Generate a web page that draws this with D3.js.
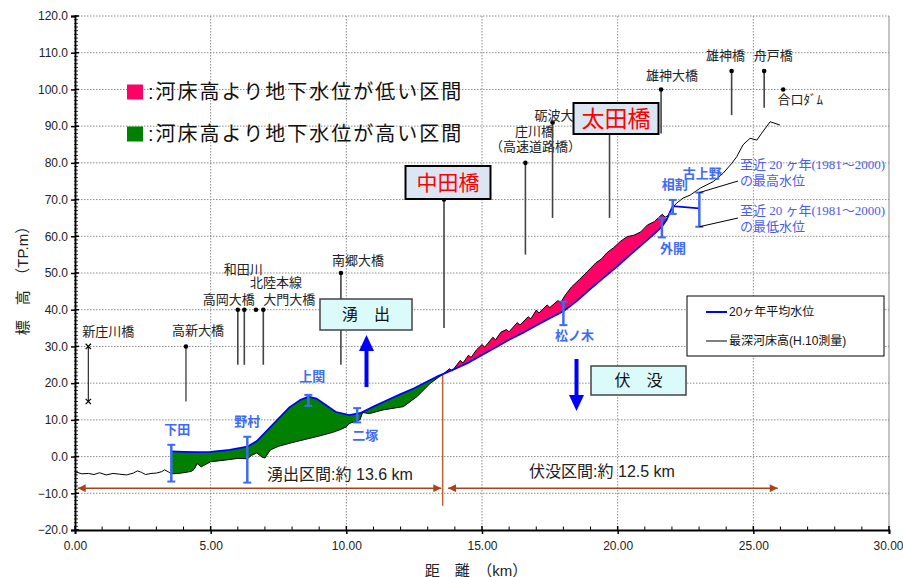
<!DOCTYPE html>
<html>
<head>
<meta charset="utf-8">
<script src="https://cdn.jsdelivr.net/npm/d3@7"></script>
<style>
  body { margin: 0; background: #fff; }
  text { font-family: "Liberation Sans", "Noto Sans CJK JP", sans-serif; }
</style>
</head>
<body>
<div id="chart"></div>
<script>
// 最深河床高 (H.10測量)
var bedKm = [0.0, 0.25, 0.5, 0.7, 0.9, 1.15, 1.4, 1.65, 1.9, 2.15, 2.3, 2.45, 2.6, 2.8, 3.0, 3.2, 3.3, 3.45,
    3.55, 3.8, 4.1, 4.3, 4.4, 4.5, 4.65, 4.9, 5.0, 5.5, 6.0, 6.35, 6.5, 6.7, 6.9, 7.0, 7.2, 7.5, 8.0, 8.5,
    9.0, 9.5, 9.8, 10.0, 10.1, 10.3, 10.5, 10.6, 10.85, 11.35, 12.1, 12.6, 13.1, 13.4,
    13.56, 13.8, 13.9, 14.2, 14.3, 14.5, 14.6, 14.8, 15.0, 15.1, 15.4, 15.5, 15.7, 15.9, 16.0, 16.3, 16.4,
    16.7, 16.8, 17.0, 17.1, 17.4, 17.5, 17.8, 17.9, 18.05, 18.3, 18.6, 18.9, 19.2, 19.4, 19.6, 19.85, 20.1,
    20.35, 20.6, 20.85, 21.1, 21.35, 21.55, 21.65, 21.75, 21.85, 22.0, 22.17, 22.41, 22.67, 23.04, 23.52,
    23.89, 24.21, 24.39, 24.62, 24.88, 25.13, 25.31, 25.62, 25.98];
var bedElev = [-4.1, -4.7, -4.6, -4.9, -4.4, -5.0, -4.6, -4.8, -5.0, -4.5, -3.9, -4.3, -4.9, -4.6, -4.5, -4.1, -3.6, -4.2,
    -4.7, -4.6, -4.3, -4.0, -3.4, -1.9, -2.8, -1.8, -1.4, -1.0, -0.5, -0.6, 0.3, 1.0, -0.2, -0.4, 1.8, 2.8, 3.8, 4.7,
    5.6, 6.6, 7.4, 8.1, 9.0, 9.5, 10.0, 12.0, 11.7, 12.7, 13.6, 16.3, 20.0, 21.6,
    22.4, 23.9, 23.3, 26.2, 25.5, 27.6, 27.0, 29.1, 30.5, 29.8, 32.5, 31.8, 33.9, 34.6, 34.0, 36.5, 35.8,
    38.1, 37.5, 39.9, 39.1, 41.3, 40.6, 42.5, 41.9, 43.8, 46.2, 48.3, 50.5, 52.8, 53.8, 55.5, 56.9, 58.6,
    59.9, 60.3, 61.2, 63.1, 64.0, 65.4, 66.0, 65.2, 65.6, 67.6, 69.0, 70.4, 71.2, 73.1, 74.9,
    77.2, 79.9, 81.7, 84.9, 86.7, 86.2, 88.1, 91.2, 90.3];

// 20ヶ年平均水位
var waterKm = [3.55, 4.0, 4.5, 5.0, 5.7, 6.35, 6.7, 7.2, 7.9, 8.3, 8.6, 8.9, 9.15, 9.6, 10.1, 10.5, 11.0, 11.4,
    12.0, 12.5, 13.0, 13.4, 13.6, 14.0, 14.5, 15.0, 15.5, 16.0, 16.5, 17.0, 17.5, 18.0, 18.5, 19.0, 19.5,
    20.0, 20.5, 21.0, 21.3, 21.63, 21.8, 22.03, 23.01];
var waterElev = [1.4, 1.3, 1.2, 1.3, 1.8, 2.7, 4.2, 8.0, 13.4, 15.4, 16.3, 15.8, 14.5, 12.2, 11.3, 11.8, 13.6, 15.0,
    17.0, 18.6, 20.5, 22.0, 22.6, 23.9, 25.6, 27.7, 29.7, 31.8, 33.7, 35.7, 37.7, 39.6, 42.4, 45.7, 48.8,
    51.9, 55.2, 58.4, 60.3, 62.6, 64.5, 68.2, 67.6];

// 至近20ヶ年の最高・最低水位
var gaugeNames = ["下田", "野村", "上関", "二塚", "松ノ木", "外開", "相割", "古上野"];
var gaugeKm = [3.55, 6.35, 8.6, 10.4, 18.0, 21.63, 22.03, 23.01];
var gaugeHigh = [3.2, 5.4, 16.8, 13.2, 42.2, 65.0, 69.9, 71.9];
var gaugeLow = [-6.8, -7.1, 13.8, 9.3, 35.8, 59.7, 66.1, 62.6];

// 橋梁
var bridgeNames = ["新庄川橋", "高新大橋", "高岡大橋", "和田川", "北陸本線", "大門大橋", "南郷大橋", "中田橋",
    "庄川橋", "砺波大橋", "太田橋", "雄神大橋", "雄神橋", "舟戸橋", "合口ﾀﾞﾑ"];
var bridgeKm = [0.49, 4.09, 6.0, 6.24, 6.67, 6.94, 9.8, 13.6, 16.6, 17.6, 19.7, 21.6, 24.2, 25.4, 26.1];
var bridgeTop = [30, 30, 40, 40, 40, 40, 50, 70, 80, 91, 90, 100, 105, 105, 100];
var bridgeBottom = [15, 15, 25, 25, null, 25, 25, 35, 55, 65, 65, 88, 93, 95, null];

var yTicks = d3.range(-20, 121, 10);
var xTicks = d3.range(0, 31, 5);

// 区間
var upwellRange = [0.1, 13.5], upwellText = "湧出区間:約 13.6 km";
var sinkRange = [13.75, 25.9], sinkText = "伏没区間:約 12.5 km";
var boundaryKm = 13.55;

var width = 903, height = 577;

var x = d3.scaleLinear().domain([0, 30]).range([75, 889]);
var y = d3.scaleLinear().domain([-20, 120]).range([530, 16]);

var svg = d3.select("#chart").append("svg")
    .attr("width", width)
    .attr("height", height);

var defs = svg.append("defs");
defs.append("marker")
    .attr("id", "brownArrow")
    .attr("viewBox", "0 0 10 10")
    .attr("refX", 10).attr("refY", 5)
    .attr("markerWidth", 10).attr("markerHeight", 8)
    .attr("markerUnits", "userSpaceOnUse")
    .attr("orient", "auto-start-reverse")
    .append("path").attr("d", "M0,0L10,5L0,10Z").attr("fill", "#a9441a");

// grid
svg.append("g").selectAll("line")
    .data(yTicks.filter(function(d) { return d > -20; }))
    .enter().append("line")
    .attr("x1", x(0)).attr("x2", x(30))
    .attr("y1", function(d) { return y(d); })
    .attr("y2", function(d) { return y(d); })
    .attr("stroke", "#8c8c8c")
    .attr("stroke-dasharray", "1.5,1.5");
svg.append("g").selectAll("line")
    .data(xTicks.filter(function(d) { return d > 0 && d < 30; }))
    .enter().append("line")
    .attr("x1", function(d) { return x(d); })
    .attr("x2", function(d) { return x(d); })
    .attr("y1", y(120)).attr("y2", y(-20))
    .attr("stroke", "#8c8c8c")
    .attr("stroke-dasharray", "1.5,1.5");
svg.append("line")
    .attr("x1", x(30)).attr("x2", x(30))
    .attr("y1", y(120)).attr("y2", y(-20))
    .attr("stroke", "#888");

var bed = d3.zip(bedKm, bedElev);
var water = d3.zip(waterKm, waterElev);
var line = d3.line()
    .x(function(d) { return x(d[0]); })
    .y(function(d) { return y(d[1]); });

function band(lo, hi, upperFirst) {
    var inR = function(d) { return d[0] >= lo && d[0] <= hi; };
    var w = water.filter(inR), b = bed.filter(inR);
    return line(upperFirst ? w.concat(b.reverse()) : b.concat(w.reverse())) + "Z";
}

// groundwater higher than bed (green), lower than bed (pink)
svg.append("path").attr("d", band(3.55, 13.6, true)).attr("fill", "#008000");
svg.append("path").attr("d", band(13.56, 21.8, false)).attr("fill", "#ff0066");

// boundary line
svg.append("line")
    .attr("x1", x(boundaryKm)).attr("x2", x(boundaryKm))
    .attr("y1", y(22.2)).attr("y2", y(-13.4))
    .attr("stroke", "#c0602e").attr("stroke-width", 1.5);

svg.append("path").datum(bed).attr("d", line)
    .attr("fill", "none").attr("stroke", "#000").attr("stroke-width", 1);
svg.append("path").datum(water).attr("d", line)
    .attr("fill", "none").attr("stroke", "#0000ff").attr("stroke-width", 1.8);

// gauge high/low bars
var gaugeColor = "#3d6cf2";
var gauges = svg.append("g").selectAll("g")
    .data(gaugeNames.map(function(n, i) {
        return { name: n, km: gaugeKm[i], hi: gaugeHigh[i], lo: gaugeLow[i] };
    }))
    .enter().append("g");
gauges.append("line")
    .attr("x1", function(d) { return x(d.km); })
    .attr("x2", function(d) { return x(d.km); })
    .attr("y1", function(d) { return y(d.hi); })
    .attr("y2", function(d) { return y(d.lo); })
    .attr("stroke", gaugeColor).attr("stroke-width", 2.5);
["hi", "lo"].forEach(function(k) {
    gauges.append("line")
        .attr("x1", function(d) { return x(d.km) - 4; })
        .attr("x2", function(d) { return x(d.km) + 4; })
        .attr("y1", function(d) { return y(d[k]); })
        .attr("y2", function(d) { return y(d[k]); })
        .attr("stroke", gaugeColor).attr("stroke-width", 2);
});

// label placement relative to bar top (t) or bottom (b)
var gaugeLabelPos = {
    "下田": ["t", 6, -15], "野村": ["t", 0, -15], "上関": ["t", 4, -18], "二塚": ["b", 8, 13],
    "松ノ木": ["b", 11, 10], "外開": ["b", 11, 11], "相割": ["t", 2, -15], "古上野": ["t", 3, -19]
};
gauges.append("text")
    .attr("x", function(d) { return x(d.km) + gaugeLabelPos[d.name][1]; })
    .attr("y", function(d) {
        var p = gaugeLabelPos[d.name];
        return y(p[0] == "t" ? d.hi : d.lo) + p[2];
    })
    .attr("text-anchor", "middle")
    .attr("dominant-baseline", "central")
    .style("font-size", "13px").style("font-weight", "bold")
    .attr("fill", gaugeColor)
    .text(function(d) { return d.name; });

// notes for max/min water level
var gi = gaugeNames.indexOf("古上野");
[[gaugeHigh[gi], 181, 164, "の最高水位"], [gaugeLow[gi], 218, 210, "の最低水位"]].forEach(function(n) {
    svg.append("line")
        .attr("x1", x(gaugeKm[gi])).attr("y1", y(n[0]))
        .attr("x2", 738).attr("y2", n[1])
        .attr("stroke", "#000").attr("stroke-width", 1);
    var t = svg.append("text")
        .attr("x", 740).attr("y", n[2])
        .attr("dominant-baseline", "central")
        .style("font-family", "'Liberation Serif', 'Noto Sans CJK JP', serif")
        .style("font-size", "13px")
        .attr("fill", "#4a5cf0");
    t.append("tspan").text("至近 20 ヶ年(1981～2000)");
    t.append("tspan").attr("x", 740).attr("dy", 16).text(n[3]);
});

// bridges
var bridgeLabelPos = {
    "新庄川橋": [20, -15], "高新大橋": [12, -16], "高岡大橋": [-9, -10], "和田川": [-1, -40],
    "北陸本線": [20, -27], "大門大橋": [26, -10], "南郷大橋": [17, -13], "庄川橋": [9, -31],
    "砺波大橋": [8, -7], "雄神大橋": [11, -14], "雄神橋": [-6, -16], "舟戸橋": [9, -16], "合口ﾀﾞﾑ": [17, 10]
};
var bridges = svg.append("g");
bridgeNames.forEach(function(name, i) {
    var bx = x(bridgeKm[i]), by = y(bridgeTop[i]);
    var thin = (name == "新庄川橋" || name == "高新大橋");
    if (bridgeBottom[i] != null) {
        bridges.append("line")
            .attr("x1", bx).attr("x2", bx)
            .attr("y1", by).attr("y2", y(bridgeBottom[i]))
            .attr("stroke", thin ? "#000" : "#444")
            .attr("stroke-width", thin ? 1 : 1.6);
    }
    if (name == "新庄川橋") {
        [bridgeTop[i], bridgeBottom[i]].forEach(function(v) {
            bridges.append("path")
                .attr("d", d3.symbol(d3.symbolTimes, 20)())
                .attr("transform", "translate(" + bx + "," + y(v) + ")")
                .attr("stroke", "#000").attr("stroke-width", 1.2).attr("fill", "none");
        });
    } else {
        bridges.append("circle").attr("cx", bx).attr("cy", by).attr("r", 2.3).attr("fill", "#000");
    }
    var p = bridgeLabelPos[name];
    if (!p) return;
    bridges.append("text")
        .attr("x", bx + p[0]).attr("y", by + p[1])
        .attr("text-anchor", "middle")
        .attr("dominant-baseline", "central")
        .style("font-size", "13px").attr("fill", "#222")
        .text(name);
    if (name == "庄川橋") {
        bridges.append("text")
            .attr("x", bx + p[0] + 1).attr("y", by + p[1] + 15)
            .attr("text-anchor", "middle")
            .attr("dominant-baseline", "central")
            .style("font-size", "13px").attr("fill", "#222")
            .text("（高速道路橋）");
    }
});

// boxed bridge names
function nameBox(cx, cy, w, h, txt, size) {
    svg.append("rect")
        .attr("x", cx - w / 2).attr("y", cy - h / 2)
        .attr("width", w).attr("height", h)
        .attr("fill", "#dce6f2").attr("stroke", "#000").attr("stroke-width", 2);
    svg.append("text")
        .attr("x", cx).attr("y", cy)
        .attr("text-anchor", "middle").attr("dominant-baseline", "central")
        .style("font-size", size + "px").attr("fill", "#ff0000")
        .text(txt);
}
nameBox(448, 182.5, 85, 33, "中田橋", 21);
nameBox(616, 118.5, 85, 31, "太田橋", 23);

// 湧出 / 伏没 boxes and arrows
function flowBox(x0, y0, w, h, txt) {
    svg.append("rect")
        .attr("x", x0).attr("y", y0).attr("width", w).attr("height", h)
        .attr("fill", "#dbfbfb").attr("stroke", "#444").attr("stroke-width", 1.5);
    svg.append("text")
        .attr("x", x0 + w / 2).attr("y", y0 + h / 2)
        .attr("text-anchor", "middle").attr("dominant-baseline", "central")
        .style("font-size", "16px").attr("fill", "#111")
        .text(txt);
}
flowBox(320, 299, 92, 31, "湧　出");
flowBox(591, 366, 95, 29, "伏　没");
svg.append("path")
    .attr("d", "M364.5,387V351H359L366.5,335L374,351H368.5V387Z")
    .attr("fill", "#0000ff");
svg.append("path")
    .attr("d", "M574.5,359V395H569L576.5,411L584,395H578.5V359Z")
    .attr("fill", "#0000ff");

// range arrows
[[upwellRange, upwellText, 340, -5.0], [sinkRange, sinkText, 602, -4.2]].forEach(function(r) {
    svg.append("line")
        .attr("x1", x(r[0][0])).attr("x2", x(r[0][1]))
        .attr("y1", y(-8.6)).attr("y2", y(-8.6))
        .attr("stroke", "#a9441a").attr("stroke-width", 1.5)
        .attr("marker-start", "url(#brownArrow)")
        .attr("marker-end", "url(#brownArrow)");
    svg.append("text")
        .attr("x", r[2]).attr("y", y(r[3]))
        .attr("text-anchor", "middle").attr("dominant-baseline", "central")
        .style("font-size", "16px").attr("fill", "#222")
        .text(r[1]);
});

// legend (areas)
[["#ff0066", ":河床高より地下水位が低い区間", 92], ["#008000", ":河床高より地下水位が高い区間", 134]].forEach(function(l) {
    svg.append("rect").attr("x", 127).attr("y", l[2] - 7.5).attr("width", 16).attr("height", 15).attr("fill", l[0]);
    svg.append("text")
        .attr("x", 148).attr("y", l[2])
        .attr("dominant-baseline", "central")
        .style("font-size", "20px").style("letter-spacing", "2px").attr("fill", "#111")
        .text(l[1]);
});

// legend (lines)
svg.append("rect")
    .attr("x", 687).attr("y", 296).attr("width", 197).attr("height", 60)
    .attr("fill", "#fff").attr("stroke", "#000").attr("stroke-width", 1);
[["#0000ff", 2, "20ヶ年平均水位", 312], ["#000", 1, "最深河床高(H.10測量)", 341]].forEach(function(l) {
    svg.append("line")
        .attr("x1", 706).attr("x2", 727).attr("y1", l[3]).attr("y2", l[3])
        .attr("stroke", l[0]).attr("stroke-width", l[1]);
    svg.append("text")
        .attr("x", 729).attr("y", l[3])
        .attr("dominant-baseline", "central")
        .style("font-size", "12px").attr("fill", "#111")
        .text(l[2]);
});

// Y Axis
var yAxis = svg.append("g")
    .attr("transform", "translate(" + x(0) + ",0)")
    .call(d3.axisLeft(y).tickValues(yTicks).tickFormat(d3.format(".1f")).tickSize(4).tickPadding(3));
svg.append("g").selectAll("line")
    .data(d3.range(-20, 121, 1))
    .enter().append("line")
    .attr("x1", x(0) - 1).attr("x2", x(0) + 3)
    .attr("y1", function(d) { return y(d); })
    .attr("y2", function(d) { return y(d); })
    .attr("stroke", "#000").attr("stroke-width", 0.8);
svg.append("g").selectAll("line")
    .data(yTicks)
    .enter().append("line")
    .attr("x1", x(0)).attr("x2", x(0) + 4)
    .attr("y1", function(d) { return y(d); })
    .attr("y2", function(d) { return y(d); })
    .attr("stroke", "#000").attr("stroke-width", 1.5);

// X Axis
var xAxis = svg.append("g")
    .attr("transform", "translate(0," + y(-20) + ")")
    .call(d3.axisBottom(x).tickValues(xTicks).tickFormat(d3.format(".2f")).tickSize(4).tickPadding(7));
svg.append("g").selectAll("line")
    .data(d3.range(0, 31, 1))
    .enter().append("line")
    .attr("x1", function(d) { return x(d); })
    .attr("x2", function(d) { return x(d); })
    .attr("y1", y(-20)).attr("y2", function(d) { return y(-20) - (d % 5 == 0 ? 4 : 3.5); })
    .attr("stroke", "#000").attr("stroke-width", function(d) { return d % 5 == 0 ? 1.5 : 1; });

[yAxis, xAxis].forEach(function(a) {
    a.select(".domain").attr("stroke-width", 1.8);
    a.selectAll(".tick line").attr("stroke-width", 1.5);
    a.selectAll("text").style("font-size", "12px").style("font-family", "'Liberation Sans', Arial, sans-serif").attr("fill", "#222");
});
// keep the last x label inside the window
xAxis.selectAll(".tick text").filter(function(d) { return d == 30; })
    .attr("text-anchor", "end").attr("dx", 14);

// X Axis label
svg.append("text")
    .attr("x", 476).attr("y", 570)
    .attr("text-anchor", "middle").attr("dominant-baseline", "central")
    .style("font-size", "15px").attr("fill", "#222")
    .text("距　離　（km）");

// Y Axis label
svg.append("text")
    .attr("transform", "translate(22,277) rotate(-90)")
    .attr("text-anchor", "middle").attr("dominant-baseline", "central")
    .style("font-size", "15px").attr("fill", "#222")
    .text("標　高　（TP.m）");
</script>
</body>
</html>
